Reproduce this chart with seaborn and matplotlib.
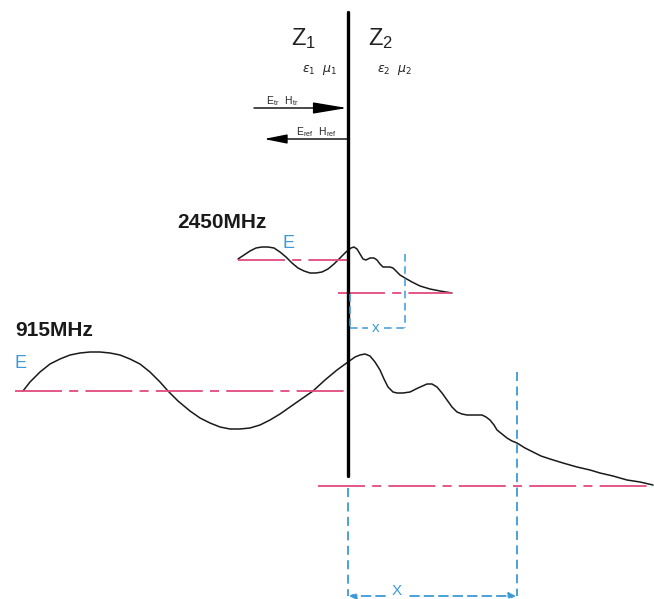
import matplotlib
matplotlib.use('Agg')
import matplotlib.pyplot as plt
import seaborn as sns
import pandas as pd

# field curves (pixel coordinates, y grows downwards)
e915_x = [23, 30, 40, 50, 60, 70, 80, 90, 100, 110, 120, 130, 140, 150, 160, 168, 178, 190,
          200, 210, 220, 230, 240, 250, 260, 270, 280, 290, 300, 313, 325, 337, 348, 355,
          360, 365, 370, 375, 380, 384, 388, 393, 397, 403, 410, 418, 427, 432, 437, 442,
          447, 452, 457, 462, 467, 475, 482, 486, 490, 494, 497, 502, 507, 512, 517, 525,
          533, 541, 550, 563, 577, 590, 600, 613, 627, 640, 653]
e915_y = [391, 382, 372, 364, 359, 355, 353, 352, 352, 353, 355, 359, 364, 372, 382, 391, 401, 411,
          418, 423, 427, 429, 429, 428, 425, 420, 414, 407, 400, 391, 380, 370, 362, 357,
          355, 354, 356, 362, 370, 379, 387, 392, 393, 393, 392, 388, 384, 384, 387, 393,
          400, 407, 412, 414, 415, 415, 415, 417, 420, 425, 430, 434, 438, 441, 443, 448,
          452, 456, 459, 463, 467, 470, 473, 476, 480, 482, 485]
e2450_x = [238, 244, 250, 256, 262, 268, 274, 280, 286, 292, 298, 304, 310, 316, 322, 328, 334,
           340, 346, 351, 354, 357, 360, 363, 366, 370, 374, 377, 380, 383, 386, 390, 393,
           396, 400, 405, 412, 420, 430, 440, 452]
e2450_y = [259, 255, 251, 248, 247, 247, 248, 252, 257, 263, 268, 271, 273, 273, 272, 269, 264,
           258, 252, 248, 247, 249, 254, 259, 260, 258, 258, 260, 264, 267, 267, 267, 268,
           271, 275, 278, 282, 286, 289, 291, 293]

# dash-dot base lines: (x0, x1, y)
base_915 = (15, 348, 391)
base_915_r = (318, 654, 486)
base_2450 = (238, 348, 260)
base_2450_r = (338, 452, 293)

PINK = "#e2497f"
BLUE = "#3d9ad8"

sns.set_theme(style="white")
plt.rcParams['font.family'] = ['Liberation Sans', 'DejaVu Sans']

fig = plt.figure(figsize=(6.54, 5.99), dpi=100)
ax = fig.add_axes([0, 0, 1, 1])
ax.set_xlim(0, 654)
ax.set_ylim(599, 0)
ax.axis("off")

# curves
for xs, ys in [(e915_x, e915_y), (e2450_x, e2450_y)]:
    df = pd.DataFrame({"x": xs, "y": ys})
    sns.lineplot(data=df, x="x", y="y", sort=False, color="#1a1a1a", lw=1.1, ax=ax)

# base lines
for x0, x1, y in [base_915, base_915_r, base_2450, base_2450_r]:
    ax.plot([x0, x1], [y, y], color=PINK, lw=1.3, dashes=(26, 4, 5, 4))

# interface
ax.plot([348, 348], [12, 476], color="black", lw=2.4)

# blue measurement lines
ax.plot([405, 405], [254, 328], color=BLUE, lw=1.1, dashes=(5, 3))
ax.plot([350, 350], [294, 328], color=BLUE, lw=1.1, dashes=(5, 3))
ax.plot([350, 368], [328, 328], color=BLUE, lw=1.1, dashes=(5, 3))
ax.plot([384, 405], [328, 328], color=BLUE, lw=1.1, dashes=(5, 3))
ax.text(376, 328, "x", color=BLUE, fontsize=11, ha="center", va="center")

ax.plot([517, 517], [372, 596], color=BLUE, lw=1.3, dashes=(5, 3))
ax.plot([348, 348], [488, 596], color=BLUE, lw=1.3, dashes=(5, 3))
ax.annotate("", xy=(349, 596), xytext=(385, 596),
            arrowprops=dict(arrowstyle="-|>", color=BLUE, lw=1.3, ls=(0, (5, 3)),
                            mutation_scale=10, shrinkA=0, shrinkB=0))
ax.annotate("", xy=(516, 596), xytext=(410, 596),
            arrowprops=dict(arrowstyle="-|>", color=BLUE, lw=1.3, ls=(0, (5, 3)),
                            mutation_scale=10, shrinkA=0, shrinkB=0))
ax.text(397, 591, "X", color=BLUE, fontsize=11, ha="center", va="center")

# labels
ax.text(15, 331, "915MHz", fontsize=15, fontweight="bold", ha="left", va="center", color="#1a1a1a")
ax.text(14, 364, "E", fontsize=13, ha="left", va="center", color=BLUE)
ax.text(177, 222, "2450MHz", fontsize=15, fontweight="bold", ha="left", va="center", color="#1a1a1a")
ax.text(282, 244, "E", fontsize=13, ha="left", va="center", color=BLUE)

ax.text(304, 39, r"$\mathregular{Z_1}$", fontsize=17, ha="center", va="center", color="#222222")
ax.text(381, 39, r"$\mathregular{Z_2}$", fontsize=17, ha="center", va="center", color="#222222")
ax.text(320, 70, r"$\epsilon_1\ \ \mu_1$", fontsize=9, ha="center", va="center", color="#222222")
ax.text(395, 70, r"$\epsilon_2\ \ \mu_2$", fontsize=9, ha="center", va="center", color="#222222")

ax.annotate("", xy=(347, 108), xytext=(254, 108),
            arrowprops=dict(arrowstyle="-|>,head_length=1.5,head_width=0.25", color="black",
                            lw=1.0, mutation_scale=14, shrinkA=0, shrinkB=0))
ax.text(266, 101, r"$\mathregular{E_{tr}\ \ H_{tr}}$", fontsize=7.5, ha="left", va="center")
ax.annotate("", xy=(264, 139), xytext=(347, 139),
            arrowprops=dict(arrowstyle="-|>,head_length=1.0,head_width=0.2", color="black",
                            lw=1.0, mutation_scale=14, shrinkA=0, shrinkB=0))
ax.text(296, 132, r"$\mathregular{E_{ref}\ \ H_{ref}}$", fontsize=7.5, ha="left", va="center")

fig.savefig("out.png", dpi=100)
